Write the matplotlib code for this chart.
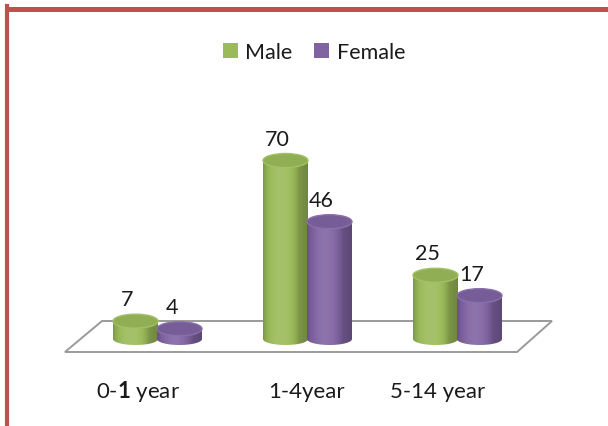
import numpy as np
import matplotlib
matplotlib.use("Agg")
import matplotlib.pyplot as plt
from matplotlib.patches import Polygon, Ellipse, PathPatch, Patch
from matplotlib.path import Path
from matplotlib.lines import Line2D
from matplotlib.colors import to_rgb

# ---------- data ----------
groups = ["0-1 year", "1-4year", "5-14 year"]
male = [7, 70, 25]
female = [4, 46, 17]
series = {"Male": male, "Female": female}
colors = {"Male": "#9BBB59", "Female": "#8064A2"}

plt.rcParams["font.family"] = ["Lato", "DejaVu Sans"]
plt.rcParams["mathtext.fontset"] = "custom"
plt.rcParams["mathtext.rm"] = "Lato"
plt.rcParams["mathtext.bf"] = "Lato:bold"

W, H, DPI = 608, 427, 100
fig = plt.figure(figsize=(W / DPI, H / DPI), dpi=DPI)
ax = fig.add_axes([0, 0, 1, 1])
ax.set_axis_off()

# pixel geometry -> data units (one category = 150 px, one unit of value = 2.55 px)
PX_X, PX_Y = 150.0, 2.55
X0_PX, BASE_PX = 157.5, 87.0          # first group centre, floor level (from bottom)
xlim = (-X0_PX / PX_X, (W - X0_PX) / PX_X)
ylim = (-BASE_PX / PX_Y, (H - BASE_PX) / PX_Y)

bar_w = 45 / PX_X
offset = 44 / PX_X / 2
eh = 7 / PX_Y                          # half-height of the top ellipse
ebh = 6 / PX_Y                         # half-height of the bottom curve
TXT = "#1a1a1a"


def shade(rgb, f):
    rgb = np.asarray(rgb)
    if f >= 1:
        return rgb + (1 - rgb) * (f - 1)
    return rgb * f


def body_gradient(base, n=64):
    t = np.linspace(0, 1, n)
    prof = 0.80 + 0.30 * np.sin(np.pi * np.clip(t * 1.25, 0, 1)) ** 0.7
    prof[t > 0.8] = prof[t > 0.8] - (t[t > 0.8] - 0.8) * 0.4
    rgb = to_rgb(base)
    row = np.array([shade(rgb, f) for f in prof])
    return np.clip(row[None, :, :], 0, 1)


def cylinder(xc, v, col):
    x0, x1 = xc - bar_w / 2, xc + bar_w / 2
    th = np.linspace(0, np.pi, 40)
    arc = np.column_stack([xc + bar_w / 2 * np.cos(th), -ebh * np.sin(th)])
    verts = np.vstack([[x1, v], [x1, 0], arc, [x0, 0], [x0, v], [x1, v]])
    clip = PathPatch(Path(verts, closed=True), facecolor="none", edgecolor="none")
    ax.add_patch(clip)
    im = ax.imshow(body_gradient(col), extent=(x0, x1, -ebh, v), aspect="auto",
                   interpolation="bicubic", zorder=3)
    im.set_clip_path(clip)
    top = Ellipse((xc, v), bar_w, 2 * eh, facecolor=shade(to_rgb(col), 0.93),
                  edgecolor=shade(to_rgb(col), 1.08), lw=1.0, zorder=4)
    ax.add_patch(top)


# floor plane
floor = Polygon([(-0.617, -5.1), (2.397, -5.1), (2.63, 7.06), (-0.37, 7.06)],
                closed=True, facecolor="white", edgecolor="#9A9A9A", lw=1.4, zorder=1)
ax.add_patch(floor)

xs = np.arange(len(groups))
for name, sign in (("Male", -1), ("Female", 1)):
    for x, v in zip(xs, series[name]):
        xc = x + sign * offset
        cylinder(xc, v, colors[name])
        ax.annotate(str(v), (xc, v), xytext=(-8, 22), textcoords="offset pixels",
                    ha="center", va="center", fontsize=15.5, color=TXT, zorder=5)

# category labels (the "1" in the first one is bold)
label_y = (H - 392 - BASE_PX) / PX_Y
lab_kw = dict(fontsize=16, color=TXT, ha="center", va="center")
ax.text((138 - X0_PX) / PX_X, label_y, r"0-$\mathbf{1}$ year", **lab_kw)
ax.text((307 - X0_PX) / PX_X, label_y, groups[1], **lab_kw)
ax.text((438 - X0_PX) / PX_X, label_y, groups[2], **lab_kw)

ax.set_xlim(*xlim)
ax.set_ylim(*ylim)

handles = [Patch(facecolor=colors[k], edgecolor="none", label=k) for k in series]
fig.legend(handles=handles, loc="center", bbox_to_anchor=(314 / W, 1 - 53 / H),
           ncol=2, frameon=False, fontsize=15.5, handlelength=0.7, handleheight=0.7,
           handletextpad=0.35, columnspacing=1.0, labelcolor=TXT)

# red frame on the left and top
red = "#C0504D"
fig.add_artist(Line2D([7 / W, 7 / W], [0, 1 - 7 / H], color=red, lw=3.0,
                      solid_capstyle="projecting"))
fig.add_artist(Line2D([7 / W, 1], [1 - 9.5 / H, 1 - 9.5 / H], color=red, lw=3.6))

fig.savefig("out.png", dpi=DPI)
